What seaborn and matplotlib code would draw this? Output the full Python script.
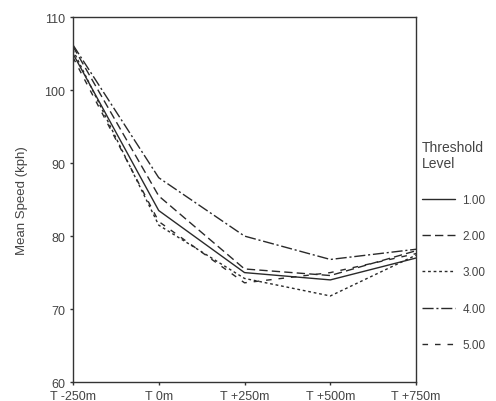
import numpy as np
import pandas as pd
import matplotlib
matplotlib.use("Agg")
import matplotlib.pyplot as plt
import seaborn as sns

positions = ["T -250m", "T 0m", "T +250m", "T +500m", "T +750m"]
levels = ["1.00", "2.00", "3.00", "4.00", "5.00"]
speed_1 = [105.0, 83.5, 75.0, 74.0, 77.0]
speed_2 = [106.0, 85.5, 75.5, 74.6, 78.0]
speed_3 = [105.5, 81.5, 74.2, 71.8, 77.4]
speed_4 = [106.2, 88.0, 80.0, 76.8, 78.2]
speed_5 = [104.5, 82.0, 73.6, 75.0, 77.6]

series = [speed_1, speed_2, speed_3, speed_4, speed_5]
rows = []
for lev, vals in zip(levels, series):
    for i, (p, v) in enumerate(zip(positions, vals)):
        rows.append({"pos": i, "label": p, "level": lev, "speed": v})
df = pd.DataFrame(rows)

sns.set_theme(style="white")
plt.rcParams['font.family'] = ['Liberation Sans', 'DejaVu Sans']

fig = plt.figure(figsize=(4.96, 4.02), dpi=100)
ax = fig.add_axes([0.147, 0.047, 0.692, 0.908])

dashes = {"1.00": "", "2.00": (6, 3), "3.00": (2, 2),
          "4.00": (8, 2, 1.5, 2), "5.00": (4, 5)}
palette = {lev: "#2a2a2a" for lev in levels}
sns.lineplot(data=df, x="pos", y="speed", hue="level", style="level",
             dashes=dashes, palette=palette, linewidth=1.0, ax=ax,
             legend=True)

ax.set_xlim(0, 4)
ax.set_ylim(60, 110)
ax.set_xticks(range(len(positions)))
ax.set_xticklabels(positions)
ax.set_yticks([60, 70, 80, 90, 100, 110])
ax.set_xlabel("")
ax.set_ylabel("Mean Speed (kph)", color="#444444", fontsize=9.5, labelpad=12)
ax.tick_params(axis="both", which="both", direction="out", length=2.5,
               width=1.0, color="#333333", labelsize=9, labelcolor="#444444",
               left=True, bottom=True, pad=3)
for s in ax.spines.values():
    s.set_color("#333333")
    s.set_linewidth(1.0)
    s.set_visible(True)

handles, labels = ax.get_legend_handles_labels()
ax.legend(handles, labels, title="Threshold\nLevel", loc="upper left",
          bbox_to_anchor=(0.99, 0.69), frameon=False, fontsize=8.5,
          title_fontsize=10, labelspacing=2.05, handlelength=2.8,
          handletextpad=0.6, borderaxespad=0.4, labelcolor="#444444",
          alignment="left")
leg = ax.get_legend()
leg.get_title().set_color("#444444")

fig.savefig("out.png", dpi=100)
